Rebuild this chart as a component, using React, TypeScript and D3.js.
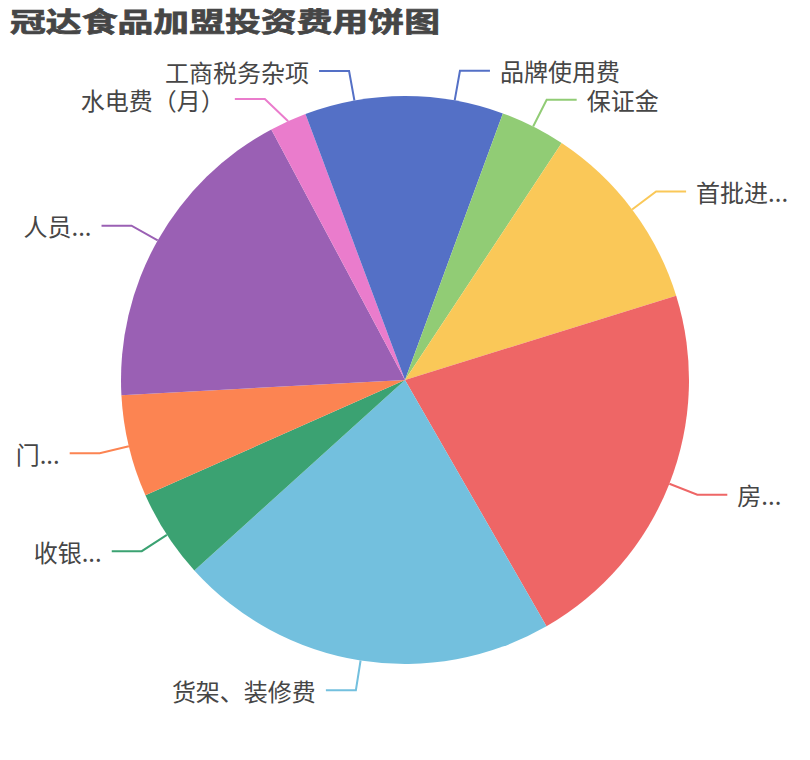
import React from "react";
import * as d3 from "d3";

const titleText = "冠达食品加盟投资费用饼图";
const labels = ["品牌使用费", "保证金", "首批进...", "房...", "货架、装修费", "收银...", "门...", "人员...", "水电费（月）", "工商税务杂项"];
const values = [5.6, 3.7, 10.9, 21.5, 21.6, 5.05, 5.8, 18.05, 2.1, 5.7];
const colors = ["#5470c6", "#91cc75", "#fac858", "#ee6666", "#73c0de", "#3ba272", "#fc8452", "#9a60b4", "#ea7ccc", "#5470c6"];

const W = 810;
const H = 760;
const cx = 405;
const cy = 380;
const R = 284;
const len1 = 30;
const len2 = 30;
const gap = 28;

export default function App() {
  const data = labels.map((l, i) => ({ label: l, value: values[i], color: colors[i] }));
  const pie = d3.pie<any>().sort(null).value((d: any) => d.value).startAngle(0).endAngle(2 * Math.PI);
  const arcs = pie(data);
  const arc = d3.arc<any>().innerRadius(0).outerRadius(R);

  const items = arcs.map((a, i) => {
    const mid = (a.startAngle + a.endAngle) / 2;
    const p1 = [cx + R * Math.sin(mid), cy - R * Math.cos(mid)];
    const p2 = [cx + (R + len1) * Math.sin(mid), cy - (R + len1) * Math.cos(mid)];
    const right = Math.sin(mid) >= 0;
    return { i, mid, p1, p2, y: p2[1], right, shifted: false };
  });

  // simple overlap avoidance per side
  [true, false].forEach((side) => {
    const list = items.filter((it) => it.right === side).sort((a, b) => a.y - b.y);
    for (let k = 1; k < list.length; k++) {
      if (list[k].y - list[k - 1].y < gap) {
        list[k].y = list[k - 1].y + gap;
        list[k].shifted = true;
      }
    }
  });
  items.forEach((it) => {
    if (it.shifted) {
      const rr = R + len1;
      const dy = it.y - cy;
      const dx = Math.sqrt(Math.max(0, rr * rr - dy * dy));
      it.p2 = [cx + (it.right ? dx : -dx), it.y];
    }
  });

  return (
    <svg width={W} height={H} style={{ position: "absolute", left: 0, top: 0, background: "#fff" }}
      fontFamily="'Noto Sans CJK SC', 'Noto Sans', sans-serif">
      <text x={10} y={32} fontSize={27} fontWeight="bold" fill="#464646" stroke="#464646" strokeWidth={0.7}
        textLength={430} lengthAdjust="spacingAndGlyphs">
        {titleText}
      </text>
      <g transform={`translate(${cx},${cy})`}>
        {arcs.map((a, i) => (
          <path key={i} d={arc(a) as string} fill={data[i].color} />
        ))}
      </g>
      {items.map((it) => {
        const dir = it.right ? 1 : -1;
        const p3 = [it.p2[0] + dir * len2, it.p2[1]];
        const c = data[it.i].color;
        return (
          <g key={"l" + it.i}>
            <polyline
              points={`${it.p1[0]},${it.p1[1]} ${it.p2[0]},${it.p2[1]} ${p3[0]},${p3[1]}`}
              fill="none"
              stroke={c}
              strokeWidth={2}
            />
            <text
              x={p3[0] + dir * 10}
              y={p3[1]}
              dominantBaseline="central"
              textAnchor={it.right ? "start" : "end"}
              fontSize={24}
              fill="#464646"
            >
              {data[it.i].label}
            </text>
          </g>
        );
      })}
    </svg>
  );
}
